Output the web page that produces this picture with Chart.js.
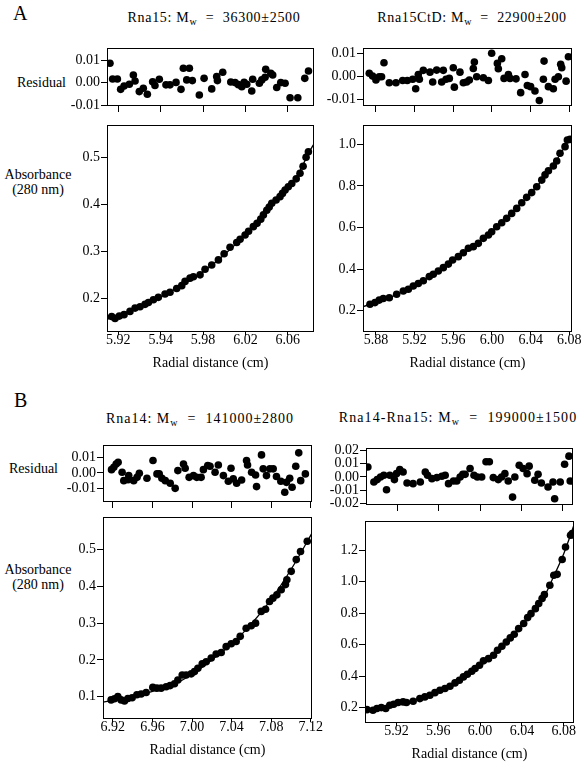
<!DOCTYPE html>
<html>
<head>
<meta charset="utf-8">
<script src="https://cdn.jsdelivr.net/npm/chart.js@4"></script>
<style>
  body { margin: 0; background: #fff; width: 584px; height: 769px; position: relative; overflow: hidden; }
  .t { position: absolute; font-family: 'Liberation Serif', 'Times New Roman', serif; font-size: 14px; line-height: 16px; color: #000; white-space: pre; }
  .c { transform: translateX(-50%); text-align: center; }
  .t sub { font-size: 10px; vertical-align: -3px; line-height: 0; }
  .big { font-size: 20px; line-height: 20px; }
</style>
</head>
<body>
<div class="t big" style="left:13px;top:3px">A</div>
<div class="t big" style="left:14px;top:390px">B</div>
<div class="t c" style="left:214px;top:10px;letter-spacing:0.7px">Rna15: M<sub>w</sub>  =  36300±2500</div>
<div class="t c" style="left:472px;top:10px;letter-spacing:0.65px">Rna15CtD: M<sub>w</sub>  =  22900±200</div>
<div class="t c" style="left:200px;top:411px;letter-spacing:1px">Rna14: M<sub>w</sub>  =  141000±2800</div>
<div class="t c" style="left:458px;top:410px;letter-spacing:1.1px">Rna14-Rna15: M<sub>w</sub>  =  199000±1500</div>
<div class="t" style="left:17px;top:75px">Residual</div>
<div class="t c" style="left:38px;top:167px;line-height:15px">Absorbance
(280 nm)</div>
<div class="t" style="left:9px;top:461px">Residual</div>
<div class="t c" style="left:38px;top:562px;line-height:15px">Absorbance
(280 nm)</div>

<script>
// tick values and labels
const rna15XTicks = [5.90, 5.94, 5.98, 6.02, 6.06];
const rna15XLabels = ['5.92', '5.94', '5.98', '6.02', '6.06'];
const ctdXTicks = [5.88, 5.92, 5.96, 6.00, 6.04, 6.08];
const ctdXLabels = ['5.88', '5.92', '5.96', '6.00', '6.04', '6.08'];
const rna14XTicks = [6.92, 6.96, 7.00, 7.04, 7.08, 7.12];
const rna14XLabels = ['6.92', '6.96', '7.00', '7.04', '7.08', '7.12'];
const cplxXTicks = [5.92, 5.96, 6.00, 6.04, 6.08];
const cplxXLabels = ['5.92', '5.96', '6.00', '6.04', '6.08'];

const residTicks = [-0.01, 0, 0.01];
const residLabels = ['-0.01', '0.00', '0.01'];
const cplxResidTicks = [-0.02, -0.01, 0, 0.01, 0.02];
const cplxResidLabels = ['-0.02', '-0.01', '0.00', '0.01', '0.02'];

const rna15YTicks = [0.2, 0.3, 0.4, 0.5];
const rna15YLabels = ['0.2', '0.3', '0.4', '0.5'];
const ctdYTicks = [0.2, 0.4, 0.6, 0.8, 1.0];
const ctdYLabels = ['0.2', '0.4', '0.6', '0.8', '1.0'];
const rna14YTicks = [0.1, 0.2, 0.3, 0.4, 0.5];
const rna14YLabels = ['0.1', '0.2', '0.3', '0.4', '0.5'];
const cplxYTicks = [0.2, 0.4, 0.6, 0.8, 1.0, 1.2];
const cplxYLabels = ['0.2', '0.4', '0.6', '0.8', '1.0', '1.2'];

// Rna15
const rna15Resid = [[5.8921,0.0086],[5.8946,0.0016],[5.8991,0.0016],[5.9022,-0.0030],[5.9054,-0.0015],[5.9104,-0.0007],[5.9142,0.0034],[5.9158,0.0007],[5.9198,-0.0040],[5.9236,-0.0025],[5.9274,-0.0052],[5.9324,0.0004],[5.9346,-0.0013],[5.9387,0.0015],[5.9450,-0.0010],[5.9488,-0.0010],[5.9545,0.0001],[5.9592,-0.0030],[5.9614,0.0064],[5.9646,0.0012],[5.9671,0.0064],[5.9699,0.0009],[5.9765,-0.0055],[5.9810,0.0019],[5.9882,-0.0028],[5.9929,0.0027],[5.9936,0.0009],[5.9986,0.0046],[6.0062,0.0003],[6.0103,0.0000],[6.0134,-0.0009],[6.0166,-0.0018],[6.0188,0.0001],[6.0213,-0.0007],[6.0260,-0.0037],[6.0269,0.0015],[6.0332,-0.0003],[6.0355,0.0012],[6.0386,0.0024],[6.0392,0.0059],[6.0440,0.0041],[6.0458,0.0034],[6.0496,-0.0022],[6.0534,0.0000],[6.0575,-0.0003],[6.0622,-0.0067],[6.0695,-0.0067],[6.0761,0.0019],[6.0796,0.0052]];
const rna15Abs = [[5.8937,0.161],[5.8969,0.157],[5.9009,0.162],[5.9054,0.165],[5.9110,0.172],[5.9158,0.179],[5.9205,0.182],[5.9252,0.187],[5.9284,0.191],[5.9331,0.197],[5.9378,0.202],[5.9441,0.209],[5.9488,0.213],[5.9551,0.221],[5.9599,0.227],[5.9630,0.236],[5.9677,0.243],[5.9709,0.246],[5.9772,0.250],[5.9819,0.262],[5.9882,0.271],[5.9945,0.282],[5.9999,0.295],[6.0055,0.309],[6.0118,0.319],[6.0150,0.326],[6.0197,0.335],[6.0230,0.343],[6.0275,0.353],[6.0310,0.360],[6.0345,0.369],[6.0370,0.378],[6.0402,0.388],[6.0425,0.395],[6.0449,0.403],[6.0490,0.410],[6.0527,0.417],[6.0550,0.424],[6.0575,0.431],[6.0605,0.438],[6.0638,0.445],[6.0680,0.455],[6.0716,0.467],[6.0745,0.482],[6.0773,0.501],[6.0795,0.513]];
const rna15Fit = [[5.8893,0.155],[5.92,0.181],[5.95,0.215],[5.98,0.256],[6.00,0.293],[6.02,0.336],[6.04,0.387],[6.06,0.437],[6.07,0.466],[6.08,0.511],[6.0848,0.530]];

// Rna15CtD
const ctdResid = [[5.8731,0.0012],[5.8765,0.0000],[5.8800,-0.0017],[5.8834,-0.0003],[5.8858,-0.0003],[5.8883,0.0058],[5.8938,-0.0029],[5.9007,-0.0029],[5.9076,-0.0019],[5.9124,-0.0019],[5.9180,-0.0014],[5.9211,-0.0055],[5.9238,0.0007],[5.9249,-0.0014],[5.9290,0.0025],[5.9359,0.0017],[5.9387,-0.0026],[5.9428,0.0026],[5.9480,-0.0026],[5.9497,0.0025],[5.9525,-0.0014],[5.9559,-0.0010],[5.9600,0.0036],[5.9611,-0.0048],[5.9669,0.0017],[5.9704,-0.0029],[5.9738,-0.0026],[5.9766,-0.0017],[5.9807,0.0033],[5.9818,0.0061],[5.9842,-0.0003],[5.9911,-0.0007],[5.9963,-0.0019],[5.9997,0.0099],[6.0056,0.0055],[6.0066,0.0032],[6.0101,0.0075],[6.0125,-0.0010],[6.0170,0.0007],[6.0187,-0.0010],[6.0249,-0.0012],[6.0297,-0.0072],[6.0342,0.0007],[6.0366,-0.0041],[6.0400,-0.0046],[6.0445,-0.0065],[6.0490,-0.0106],[6.0532,-0.0014],[6.0539,0.0065],[6.0584,-0.0046],[6.0635,-0.0055],[6.0653,-0.0014],[6.0687,-0.0003],[6.0711,0.0051],[6.0722,0.0036],[6.0767,-0.0022],[6.0791,0.0084]];
const ctdAbs = [[5.8738,0.231],[5.8790,0.239],[5.8834,0.251],[5.8876,0.259],[5.8938,0.262],[5.9014,0.279],[5.9083,0.295],[5.9135,0.303],[5.9186,0.319],[5.9238,0.331],[5.9290,0.344],[5.9352,0.364],[5.9393,0.375],[5.9445,0.391],[5.9497,0.407],[5.9549,0.424],[5.9593,0.444],[5.9652,0.460],[5.9704,0.479],[5.9756,0.500],[5.9807,0.508],[5.9859,0.524],[5.9911,0.548],[5.9963,0.564],[5.9997,0.580],[6.0049,0.604],[6.0101,0.623],[6.0152,0.644],[6.0204,0.668],[6.0256,0.692],[6.0308,0.719],[6.0359,0.745],[6.0411,0.768],[6.0463,0.796],[6.0515,0.828],[6.0549,0.853],[6.0584,0.873],[6.0635,0.896],[6.0670,0.920],[6.0704,0.957],[6.0756,0.989],[6.0780,1.021],[6.0808,1.024]];
const ctdFit = [[5.8666,0.219],[5.90,0.275],[5.94,0.378],[5.98,0.507],[6.00,0.582],[6.02,0.668],[6.04,0.764],[6.06,0.876],[6.0828,1.045]];

// Rna14
const rna14Resid = [[6.9187,0.0021],[6.9210,0.0036],[6.9234,0.0057],[6.9254,0.0068],[6.9294,0.0004],[6.9311,-0.0049],[6.9354,-0.0043],[6.9361,-0.0017],[6.9411,-0.0049],[6.9445,-0.0028],[6.9468,-0.0002],[6.9545,-0.0034],[6.9606,0.0079],[6.9646,-0.0006],[6.9669,-0.0006],[6.9696,-0.0034],[6.9730,-0.0049],[6.9780,-0.0066],[6.9830,-0.0098],[6.9857,0.0015],[6.9914,0.0057],[6.9931,0.0030],[6.9971,-0.0028],[7.0015,-0.0017],[7.0048,-0.0028],[7.0092,-0.0028],[7.0115,0.0021],[7.0159,0.0047],[7.0182,0.0043],[7.0233,0.0004],[7.0266,0.0051],[7.0317,-0.0017],[7.0367,-0.0053],[7.0394,0.0030],[7.0417,-0.0038],[7.0451,-0.0066],[7.0501,-0.0045],[7.0551,0.0079],[7.0561,0.0051],[7.0602,0.0004],[7.0642,-0.0013],[7.0652,-0.0087],[7.0702,0.0115],[7.0719,0.0026],[7.0752,-0.0017],[7.0786,0.0026],[7.0820,0.0026],[7.0853,-0.0023],[7.0897,-0.0053],[7.0937,-0.0123],[7.0954,-0.0060],[7.0987,-0.0034],[7.1011,-0.0091],[7.1048,0.0043],[7.1078,0.0128],[7.1098,-0.0049],[7.1145,-0.0006]];
const rna14Abs = [[6.9183,0.091],[6.9217,0.094],[6.9251,0.100],[6.9284,0.091],[6.9318,0.088],[6.9352,0.095],[6.9395,0.097],[6.9443,0.105],[6.9486,0.107],[6.9537,0.111],[6.9604,0.125],[6.9645,0.123],[6.9688,0.123],[6.9739,0.127],[6.9779,0.130],[6.9823,0.135],[6.9857,0.145],[6.9901,0.159],[6.9941,0.159],[6.9992,0.162],[7.0025,0.168],[7.0059,0.177],[7.0103,0.189],[7.0143,0.195],[7.0194,0.205],[7.0244,0.216],[7.0295,0.220],[7.0345,0.236],[7.0396,0.244],[7.0446,0.250],[7.0487,0.264],[7.0547,0.286],[7.0598,0.293],[7.0642,0.300],[7.0699,0.332],[7.0743,0.338],[7.0783,0.359],[7.0817,0.368],[7.0857,0.377],[7.0901,0.391],[7.0944,0.405],[7.0958,0.418],[7.1002,0.441],[7.1053,0.473],[7.1096,0.495],[7.1164,0.523]];
const rna14Fit = [[6.9101,0.085],[6.94,0.100],[6.98,0.132],[7.00,0.160],[7.02,0.200],[7.04,0.243],[7.06,0.298],[7.08,0.365],[7.10,0.446],[7.1212,0.545]];

// Rna14-Rna15
const cplxResid = [[5.8918,0.0076],[5.8976,-0.0038],[5.9008,-0.0020],[5.9040,0.0000],[5.9072,0.0013],[5.9098,-0.0097],[5.9130,0.0013],[5.9174,-0.0020],[5.9194,0.0025],[5.9226,0.0056],[5.9258,0.0038],[5.9296,-0.0046],[5.9354,-0.0051],[5.9424,-0.0038],[5.9472,0.0038],[5.9494,0.0013],[5.9536,-0.0013],[5.9584,-0.0005],[5.9632,0.0005],[5.9664,0.0013],[5.9696,-0.0051],[5.9744,-0.0031],[5.9776,-0.0031],[5.9808,0.0000],[5.9834,0.0020],[5.9856,0.0020],[5.9904,0.0064],[5.9942,0.0013],[5.9974,0.0000],[6.0016,0.0000],[6.0058,0.0115],[6.0090,0.0115],[6.0128,-0.0005],[6.0176,-0.0020],[6.0208,0.0000],[6.0240,0.0025],[6.0272,-0.0031],[6.0314,-0.0153],[6.0336,0.0000],[6.0378,0.0089],[6.0416,0.0064],[6.0454,0.0025],[6.0474,0.0082],[6.0528,-0.0025],[6.0560,0.0020],[6.0592,-0.0046],[6.0656,-0.0076],[6.0704,-0.0038],[6.0720,-0.0166],[6.0774,-0.0038],[6.0816,0.0097],[6.0858,0.0158],[6.0870,-0.0031]];
const cplxAbs = [[5.8918,0.187],[5.8976,0.183],[5.9014,0.194],[5.9056,0.200],[5.9098,0.194],[5.9136,0.215],[5.9174,0.221],[5.9216,0.232],[5.9264,0.236],[5.9296,0.232],[5.9360,0.240],[5.9424,0.257],[5.9472,0.268],[5.9520,0.278],[5.9568,0.295],[5.9616,0.310],[5.9664,0.321],[5.9712,0.336],[5.9760,0.357],[5.9802,0.374],[5.9840,0.395],[5.9878,0.412],[5.9920,0.431],[5.9952,0.448],[5.9994,0.469],[6.0032,0.497],[6.0080,0.511],[6.0128,0.533],[6.0166,0.564],[6.0208,0.590],[6.0250,0.617],[6.0288,0.643],[6.0326,0.666],[6.0368,0.702],[6.0416,0.734],[6.0454,0.772],[6.0486,0.797],[6.0528,0.829],[6.0560,0.861],[6.0592,0.893],[6.0614,0.918],[6.0666,0.978],[6.0704,1.041],[6.0736,1.047],[6.0784,1.141],[6.0816,1.221],[6.0864,1.295],[6.0880,1.306]];
const cplxFit = [[5.8900,0.185],[5.92,0.225],[5.94,0.252],[5.96,0.305],[5.98,0.378],[6.00,0.470],[6.02,0.585],[6.04,0.725],[6.06,0.890],[6.07,1.030],[6.08,1.180],[6.0897,1.360]];

const serif = "'Liberation Serif', 'Times New Roman', serif";

const frame = {
  id: 'frame',
  beforeDatasetsDraw(chart) {
    const a = chart.chartArea, c = chart.ctx;
    c.save();
    c.strokeStyle = '#000';
    c.lineWidth = 1;
    c.strokeRect(Math.round(a.left) + 0.5, Math.round(a.top) + 0.5,
      Math.round(a.right - a.left) - 1, Math.round(a.bottom - a.top) - 1);
    c.restore();
  }
};

function fixedAxis(size, horizontal) {
  return function(scale) {
    if (horizontal) scale.height = size; else scale.width = size;
    scale.paddingLeft = 0; scale.paddingRight = 0;
    scale.paddingTop = 0; scale.paddingBottom = 0;
  };
}

function panel(p) {
  const padL = 60, padT = 6, padR = 20;
  const padB = p.resid ? 8 : 40;
  const w = p.box.r - p.box.l + padL + padR;
  const h = p.box.b - p.box.t + padT + padB;
  const canvas = document.createElement('canvas');
  canvas.width = w; canvas.height = h;
  canvas.style.cssText = 'position:absolute;left:' + (p.box.l - padL) + 'px;top:' + (p.box.t - padT) + 'px;width:' + w + 'px;height:' + h + 'px';
  document.body.appendChild(canvas);

  const datasets = [{
    data: p.points.map(d => ({x: d[0], y: d[1]})),
    pointRadius: 3.8,
    pointBackgroundColor: '#000',
    pointBorderWidth: 0,
    showLine: false,
    order: 1
  }];
  if (p.fit) {
    datasets.push({
      data: p.fit.map(d => ({x: d[0], y: d[1]})),
      showLine: true,
      pointRadius: 0,
      borderColor: '#000',
      borderWidth: 1.3,
      cubicInterpolationMode: 'monotone',
      order: 2
    });
  }

  new Chart(canvas, {
    type: 'scatter',
    data: { datasets: datasets },
    options: {
      responsive: false,
      devicePixelRatio: 1,
      animation: false,
      layout: { padding: { left: 0, top: padT, right: padR, bottom: 0 } },
      plugins: { legend: { display: false }, tooltip: { enabled: false } },
      scales: {
        x: {
          type: 'linear',
          min: p.xMin, max: p.xMax,
          afterBuildTicks: s => { s.ticks = p.xTicks.map(v => ({value: v})); },
          afterFit: fixedAxis(padB, true),
          grid: { drawOnChartArea: false, drawTicks: true, tickLength: p.resid ? 6 : 3, color: '#000' },
          border: { display: false },
          ticks: {
            display: !p.resid,
            autoSkip: false, maxRotation: 0, padding: -3,
            color: '#000', font: { family: serif, size: 14 },
            callback: (v, i) => p.xLabels[i]
          },
          title: {
            display: !p.resid, text: 'Radial distance (cm)', color: '#000',
            font: { family: serif, size: 14 }, padding: { top: 0, bottom: 0 }
          }
        },
        y: {
          type: 'linear',
          min: p.yMin, max: p.yMax,
          afterBuildTicks: s => { s.ticks = p.yTicks.map(v => ({value: v})); },
          afterFit: fixedAxis(padL, false),
          grid: { drawOnChartArea: false, drawTicks: true, tickLength: 6, color: '#000' },
          border: { display: false },
          ticks: {
            autoSkip: false, padding: 1,
            color: '#000', font: { family: serif, size: 14 },
            callback: (v, i) => p.yLabels[i]
          }
        }
      }
    },
    plugins: [frame]
  });
}

// A: Rna15
panel({ resid: true, box: {l: 107, t: 48, r: 314, b: 106}, xMin: 5.8893, xMax: 6.0848, yMin: -0.0104, yMax: 0.0154,
  xTicks: rna15XTicks, xLabels: rna15XLabels, yTicks: residTicks, yLabels: residLabels, points: rna15Resid });
panel({ resid: false, box: {l: 107, t: 125, r: 314, b: 332}, xMin: 5.8893, xMax: 6.0848, yMin: 0.128, yMax: 0.570,
  xTicks: rna15XTicks, xLabels: rna15XLabels, yTicks: rna15YTicks, yLabels: rna15YLabels, points: rna15Abs, fit: rna15Fit });
// A: Rna15CtD
panel({ resid: true, box: {l: 363, t: 48, r: 572, b: 106}, xMin: 5.8666, xMax: 6.0828, yMin: -0.0130, yMax: 0.0122,
  xTicks: ctdXTicks, xLabels: ctdXLabels, yTicks: residTicks, yLabels: residLabels, points: ctdResid });
panel({ resid: false, box: {l: 363, t: 125, r: 572, b: 332}, xMin: 5.8666, xMax: 6.0828, yMin: 0.0976, yMax: 1.093,
  xTicks: ctdXTicks, xLabels: ctdXLabels, yTicks: ctdYTicks, yLabels: ctdYLabels, points: ctdAbs, fit: ctdFit });
// B: Rna14
panel({ resid: true, box: {l: 103, t: 445, r: 312, b: 502}, xMin: 6.9101, xMax: 7.1212, yMin: -0.0185, yMax: 0.0178,
  xTicks: rna14XTicks, xLabels: rna14XLabels, yTicks: residTicks, yLabels: residLabels, points: rna14Resid });
panel({ resid: false, box: {l: 103, t: 517, r: 312, b: 719}, xMin: 6.9101, xMax: 7.1212, yMin: 0.039, yMax: 0.589,
  xTicks: rna14XTicks, xLabels: rna14XLabels, yTicks: rna14YTicks, yLabels: rna14YLabels, points: rna14Abs, fit: rna14Fit });
// B: Rna14-Rna15
panel({ resid: true, box: {l: 366, t: 448, r: 573, b: 505}, xMin: 5.8900, xMax: 6.0897, yMin: -0.0213, yMax: 0.0220,
  xTicks: cplxXTicks, xLabels: cplxXLabels, yTicks: cplxResidTicks, yLabels: cplxResidLabels, points: cplxResid });
panel({ resid: false, box: {l: 365, t: 521, r: 574, b: 723}, xMin: 5.8900, xMax: 6.0897, yMin: 0.102, yMax: 1.386,
  xTicks: cplxXTicks, xLabels: cplxXLabels, yTicks: cplxYTicks, yLabels: cplxYLabels, points: cplxAbs, fit: cplxFit });
</script>
</body>
</html>
